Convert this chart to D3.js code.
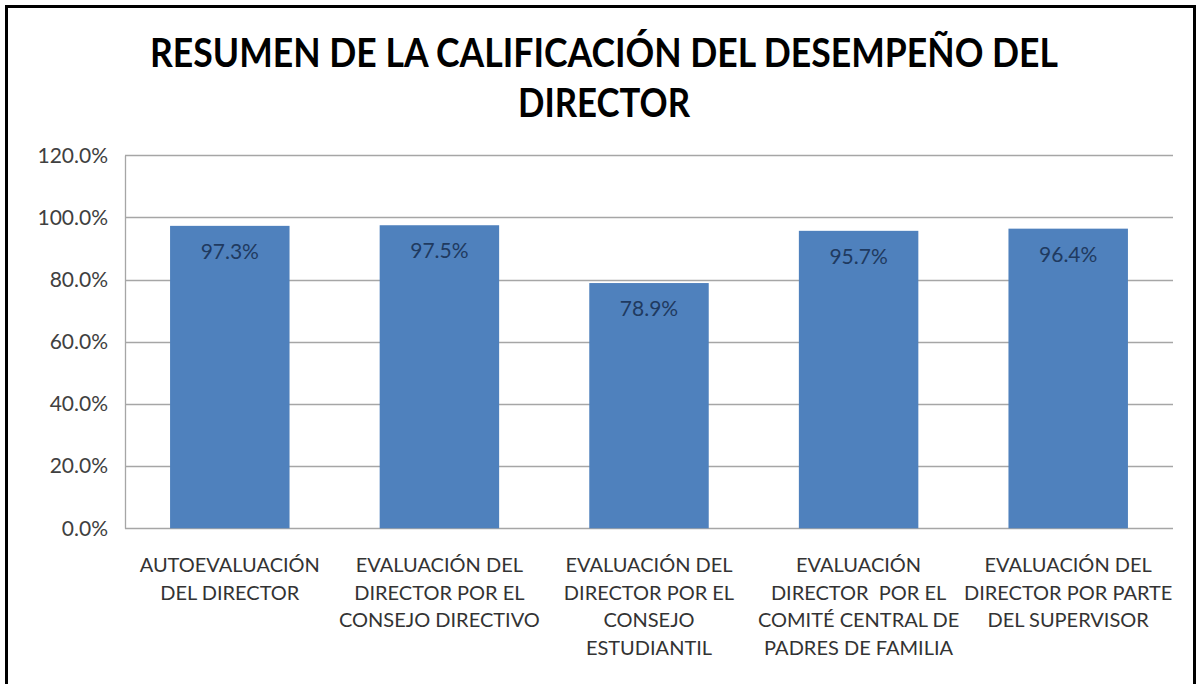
<!DOCTYPE html>
<html>
<head>
<meta charset="utf-8">
<script src="https://cdn.jsdelivr.net/npm/d3@7"></script>
<style>
  body { margin: 0; background: #fff; }
  text { font-family: Lato, "Open Sans", sans-serif; }
</style>
</head>
<body>
<div id="c"></div>
<script>
// chart data
var categories = [
	["AUTOEVALUACIÓN", "DEL DIRECTOR"],
	["EVALUACIÓN DEL", "DIRECTOR POR EL", "CONSEJO DIRECTIVO"],
	["EVALUACIÓN DEL", "DIRECTOR POR EL", "CONSEJO", "ESTUDIANTIL"],
	["EVALUACIÓN", "DIRECTOR  POR EL", "COMITÉ CENTRAL DE", "PADRES DE FAMILIA"],
	["EVALUACIÓN DEL", "DIRECTOR POR PARTE", "DEL SUPERVISOR"]
];
var values = [97.3, 97.5, 78.9, 95.7, 96.4];
var ticks = [0, 20, 40, 60, 80, 100, 120];
var title = ["RESUMEN DE LA CALIFICACIÓN DEL DESEMPEÑO DEL", "DIRECTOR"];
var title_len = [908, 172];

var width = 1200;
var height = 684;

var plot_left = 125, plot_right = 1173;
var plot_top = 155.3, plot_bottom = 528.3;

var svg = d3.select("#c").append("svg")
	.attr("width", width)
	.attr("height", height);

// outer frame
svg.append("rect")
	.attr("x", 6.5)
	.attr("y", 6.5)
	.attr("width", 1188)
	.attr("height", 690)
	.attr("fill", "none")
	.attr("stroke", "#000")
	.attr("stroke-width", 3);

var idx = categories.map(function(d, i) { return i; });

var x_scale = d3.scaleBand()
	.domain(idx)
	.range([plot_left, plot_right])
	.paddingInner(0.43)
	.paddingOuter(0.215);

var y_scale = d3.scaleLinear()
	.domain([0, 120])
	.range([plot_bottom, plot_top]);

// gridlines
svg.append("g")
	.selectAll("line")
	.data(ticks)
	.enter()
	.append("line")
	.attr("x1", plot_left)
	.attr("x2", plot_right)
	.attr("y1", function(d) { return Math.round(y_scale(d)) + 0.5; })
	.attr("y2", function(d) { return Math.round(y_scale(d)) + 0.5; })
	.attr("stroke", "#a6a6a6")
	.attr("stroke-width", 1.3);

// y axis
var y_axis = svg.append("g")
	.attr("transform", "translate(" + plot_left + ",0)")
	.call(d3.axisLeft(y_scale)
		.tickValues(ticks)
		.tickSize(0)
		.tickPadding(17)
		.tickFormat(function(d) { return d.toFixed(1) + "%"; }));

y_axis.select(".domain").attr("stroke", "#a6a6a6").attr("stroke-width", 1.3);
y_axis.selectAll("text")
	.attr("font-family", "Lato, sans-serif")
	.attr("font-size", 21)
	.attr("fill", "#404040");

// bars
svg.append("g")
	.selectAll("rect")
	.data(values)
	.enter()
	.append("rect")
	.attr("x", function(d, i) { return x_scale(i); })
	.attr("y", function(d) { return y_scale(d); })
	.attr("width", x_scale.bandwidth())
	.attr("height", function(d) { return plot_bottom - y_scale(d); })
	.attr("fill", "#4f81bd");

// value labels
svg.append("g")
	.selectAll("text")
	.data(values)
	.enter()
	.append("text")
	.attr("x", function(d, i) { return x_scale(i) + x_scale.bandwidth() / 2; })
	.attr("y", function(d) { return y_scale(d) + 33; })
	.attr("text-anchor", "middle")
	.attr("font-size", 21)
	.attr("fill", "#1f3a60")
	.text(function(d) { return d.toFixed(1) + "%"; });

// category labels
var cat = svg.append("g")
	.selectAll("text")
	.data(categories)
	.enter()
	.append("text")
	.attr("text-anchor", "middle")
	.attr("font-size", 20)
	.attr("fill", "#333");

cat.selectAll("tspan")
	.data(function(d, i) { return d.map(function(s) { return { s: s, i: i }; }); })
	.enter()
	.append("tspan")
	.attr("x", function(d) { return x_scale(d.i) + x_scale.bandwidth() / 2; })
	.attr("y", function(d, j) { return 572 + j * 27.6; })
	.attr("xml:space", "preserve")
	.style("white-space", "pre")
	.text(function(d) { return d.s; });

// title
svg.append("g")
	.selectAll("text")
	.data(title)
	.enter()
	.append("text")
	.attr("x", 604)
	.attr("y", function(d, i) { return 67 + i * 50; })
	.attr("text-anchor", "middle")
	.attr("font-size", 40)
	.attr("font-weight", "bold")
	.attr("fill", "#000")
	.attr("textLength", function(d, i) { return title_len[i]; })
	.attr("lengthAdjust", "spacingAndGlyphs")
	.text(function(d) { return d; });
</script>
</body>
</html>
